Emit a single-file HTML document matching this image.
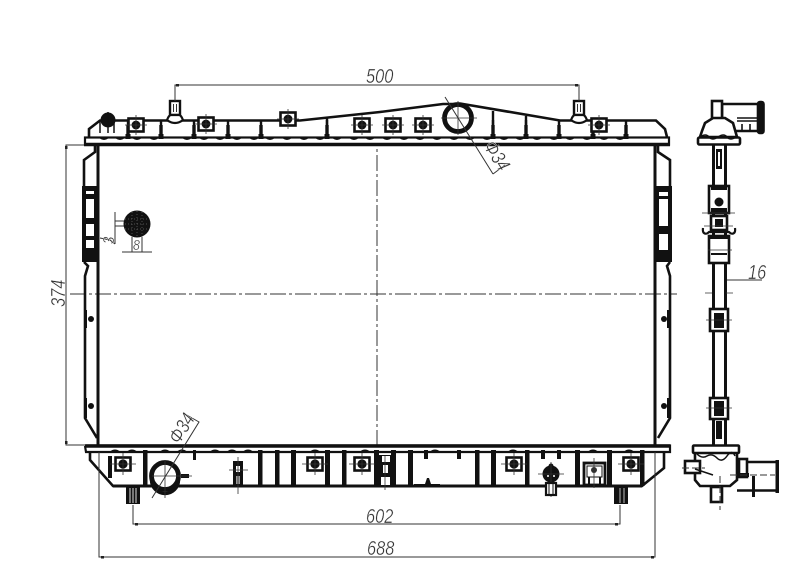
<!DOCTYPE html>
<html><head><meta charset="utf-8"><style>
html,body{margin:0;padding:0;background:#fff}
svg{display:block;filter:blur(.3px)}
text{font-family:"Liberation Sans",sans-serif;font-style:italic;fill:#333;font-size:20px;stroke:#fff;stroke-width:.35px}
</style></head><body>
<svg width="800" height="575" viewBox="0 0 800 575" xmlns="http://www.w3.org/2000/svg">
<defs>
<g id="clip"><rect x="-7.5" y="-6.5" width="15" height="13" fill="#fff" stroke="#111" stroke-width="2.6"/><circle r="4.4" fill="#111"/><path d="M-11 0H11M0-10V10" stroke="#333" stroke-width=".8"/></g>
<g id="rib"><path d="M0 0V-19" stroke="#111" stroke-width="2.4"/><path d="M0 0V-14" stroke="#111" stroke-width="3.4"/><path d="M0 0V-5" stroke="#111" stroke-width="5"/></g>
<g id="nip"><rect x="-5" y="0" width="10" height="14" fill="#fff" stroke="#111" stroke-width="2.4"/><path d="M-1.5 3V11M1.5 3V11" stroke="#333"/><path d="M-8 19Q-6 14-4 14H4Q6 14 8 19Q0 25-8 19Z" fill="#fff" stroke="#111" stroke-width="2.2"/></g>
<g id="bclip"><rect x="-7.5" y="-6.5" width="15" height="13" fill="#fff" stroke="#111" stroke-width="2.6"/><circle r="4.6" fill="#111"/><path d="M-13 0H13M0-11V11" stroke="#333" stroke-width=".8"/></g>
</defs>
<rect width="800" height="575" fill="#fff"/>

<!-- centre lines -->
<g stroke="#333" stroke-width="1" stroke-dasharray="16 3 3 3" fill="none">
<path d="M377 130V446"/><path d="M70 294H677"/>
</g>

<!-- core -->
<g stroke="#111" fill="none">
<path d="M98 145V445M655 145V445" stroke-width="3"/>
<path d="M95 146V152L84 160V186M84 262L88 266L85 276V418L97 438" stroke-width="2.600"/>
<path d="M658 146V152L670 160V186M670 262L667 266L670 276V418L658 438" stroke-width="2.600"/>
</g>
<g fill="#111">
<rect x="82" y="186" width="4" height="76"/><rect x="94" y="186" width="5" height="76"/>
<rect x="82" y="186" width="16" height="5"/><rect x="82" y="194" width="16" height="5"/><rect x="82" y="218" width="16" height="6"/><rect x="82" y="236" width="16" height="4"/><rect x="82" y="248" width="16" height="14"/>
<rect x="655" y="186" width="4" height="76"/><rect x="668" y="186" width="4" height="76"/>
<rect x="655" y="186" width="17" height="6"/><rect x="655" y="196" width="17" height="3"/><rect x="655" y="226" width="17" height="8"/><rect x="655" y="250" width="17" height="12"/>
<circle cx="91" cy="319" r="3"/><circle cx="91" cy="406" r="3"/><circle cx="664" cy="319" r="3"/><circle cx="664" cy="406" r="3"/>
<rect x="84" y="398" width="3" height="20"/><rect x="84" y="310" width="3" height="18"/><rect x="667" y="310" width="3" height="18"/><rect x="667" y="398" width="3" height="20"/>
</g>

<!-- top tank -->
<path d="M89 137V129L100 120.500H300L380 112L443 104H463L560 120.500H656L665 129L667 137" fill="#fff" stroke="#111" stroke-width="2.600"/>
<rect x="85" y="137.500" width="584" height="7" fill="#fff" stroke="#111" stroke-width="2.200"/>
<path d="M84 144.500H670" stroke="#111" stroke-width="3.400"/>
<path d="M100 138q4 3 8 0M116 138q4 3 8 0M133 138q4 3 8 0M150 138q4 3 8 0M183 138q4 3 8 0M200 138q4 3 8 0M216 138q4 3 8 0M233 138q4 3 8 0M250 138q4 3 8 0M266 138q4 3 8 0M283 138q4 3 8 0M300 138q4 3 8 0M316 138q4 3 8 0M333 138q4 3 8 0M350 138q4 3 8 0M366 138q4 3 8 0M383 138q4 3 8 0M400 138q4 3 8 0M416 138q4 3 8 0M433 138q4 3 8 0M450 138q4 3 8 0M466 138q4 3 8 0M483 138q4 3 8 0M500 138q4 3 8 0M516 138q4 3 8 0M533 138q4 3 8 0M550 138q4 3 8 0M566 138q4 3 8 0M583 138q4 3 8 0M600 138q4 3 8 0M616 138q4 3 8 0" fill="#111" stroke="#111" stroke-width="1"/>
<use href="#rib" x="128" y="139"/><use href="#rib" x="161" y="139"/><use href="#rib" x="194" y="139"/><use href="#rib" x="228" y="139"/><use href="#rib" x="261" y="139"/><use href="#rib" x="327" y="139"/>
<path d="M327 139V118" stroke="#111" stroke-width="2.400"/>
<use href="#rib" x="493" y="139"/><use href="#rib" x="526" y="139"/><use href="#rib" x="559" y="139"/><use href="#rib" x="593" y="139"/><use href="#rib" x="626" y="139"/>
<path d="M493 139V111M526 139V116" stroke="#111" stroke-width="2.400"/>
<use href="#clip" x="136" y="125"/><use href="#clip" x="206" y="124"/><use href="#clip" x="288" y="119"/><use href="#clip" x="362" y="125"/><use href="#clip" x="393" y="125"/><use href="#clip" x="423" y="125"/><use href="#clip" x="599" y="125"/>
<use href="#nip" x="175" y="101"/><use href="#nip" x="579" y="101"/>
<circle cx="108" cy="120" r="7.500" fill="#111"/><path d="M100 120V133M108 112V133M114 122V133" stroke="#111" stroke-width="1.500"/>
<circle cx="458" cy="118" r="13.500" fill="#fff" stroke="#111" stroke-width="4.800"/>
<path d="M441 118H477M458 101V135" stroke="#333" stroke-width=".8"/>
<path d="M445 97L493 174M493 174L505 165" stroke="#333" stroke-width="1" fill="none"/>
<text transform="translate(483,146) rotate(58) scale(.8,1)" style="font-size:20px">Φ34</text>

<!-- bottom tank -->
<path d="M90 452V460L113 486H642L664 468V452" fill="#fff" stroke="#111" stroke-width="2.600"/>
<path d="M113 486H642" stroke="#111" stroke-width="3"/>
<path d="M86 445.500H670V452H86L85 446" fill="#fff" stroke="#111" stroke-width="2.200"/>
<path d="M85 446H670" stroke="#111" stroke-width="3.400"/>
<g fill="#111">
<rect x="108" y="456" width="4" height="22"/><rect x="143" y="450" width="4.500" height="36"/>
<rect x="258" y="450" width="4.500" height="36"/><rect x="275" y="450" width="4.500" height="36"/><rect x="291" y="450" width="5" height="36"/><rect x="325" y="450" width="5" height="36"/><rect x="342" y="450" width="4.500" height="36"/><rect x="374" y="450" width="5" height="36"/><rect x="391" y="450" width="5" height="36"/><rect x="408" y="450" width="5" height="36"/>
<rect x="475" y="450" width="4.500" height="36"/><rect x="491" y="450" width="5" height="36"/><rect x="525" y="450" width="4.500" height="36"/><rect x="575" y="450" width="5" height="36"/><rect x="607" y="450" width="5" height="36"/><rect x="640" y="450" width="4.500" height="36"/>
<rect x="424" y="450" width="4" height="9"/><rect x="457" y="450" width="4" height="9"/><rect x="541" y="450" width="4" height="9"/><rect x="557" y="450" width="4" height="9"/>
<path d="M414 486V484H425L427 478H429L431 484H440V486Z"/>
<rect x="193" y="450" width="3" height="10"/>
</g>
<path d="M110 452q5-4 10 0M127 452q5-4 10 0M160 452q5-4 10 0M177 452q5-4 10 0M210 452q5-4 10 0M227 452q5-4 10 0M243 452q5-4 10 0M310 452q5-4 10 0M360 452q5-4 10 0M430 452q5-4 10 0M508 452q5-4 10 0M588 452q5-4 10 0M624 452q5-4 10 0" fill="#111" stroke="#111" stroke-width="1"/>
<use href="#bclip" x="123" y="464"/><use href="#bclip" x="315" y="464"/><use href="#bclip" x="362" y="464"/><use href="#bclip" x="514" y="464"/><use href="#bclip" x="631" y="464"/>
<rect x="233" y="461" width="10" height="24" fill="#111"/><rect x="236" y="466" width="4" height="6" fill="#fff"/><rect x="236" y="476" width="4" height="8" fill="#999"/><path d="M238 457V494M229 470H248" stroke="#333" stroke-width=".8"/>
<rect x="379" y="455" width="14" height="31" fill="#111"/><rect x="382" y="456" width="8" height="6" fill="#fff"/><rect x="383" y="465" width="5" height="8" fill="#fff"/><rect x="381" y="477" width="9" height="8" fill="#fff"/><path d="M385 456V490" stroke="#333" stroke-width=".8"/>
<circle cx="165" cy="480" r="13.500" fill="#fff" stroke="#111" stroke-width="3.400"/>
<circle cx="165" cy="476" r="13.500" fill="#fff" stroke="#111" stroke-width="4.800"/>
<path d="M181 476H189" stroke="#111" stroke-width="4"/>
<path d="M152 476H192M165 460V498" stroke="#333" stroke-width=".8"/>
<path d="M152 498L199 422L185 414" stroke="#333" stroke-width="1" fill="none"/>
<text transform="translate(179,445) rotate(-58) scale(.8,1)" style="font-size:20px">Φ34</text>
<rect x="126" y="487" width="14" height="17" fill="#111"/><path d="M130 488V503M133 488V503M136 488V503" stroke="#ddd" stroke-width="1"/>
<rect x="614" y="487" width="14" height="17" fill="#111"/><path d="M620 488V503M624 488V503" stroke="#bbb" stroke-width="1"/>
<circle cx="551" cy="474" r="8.500" fill="#111"/><circle cx="551" cy="466" r="2.500" fill="#111"/><path d="M538 474H564M551 462V497" stroke="#333" stroke-width=".8"/>
<rect x="546" y="483" width="10" height="12" fill="#fff" stroke="#111" stroke-width="2.200"/><path d="M549 484V494M553 484V494" stroke="#111"/>
<circle cx="548" cy="476" r="1" fill="#fff"/><circle cx="554" cy="476" r="1" fill="#fff"/>
<rect x="584" y="463" width="21" height="22" fill="#fff" stroke="#111" stroke-width="2.800"/>
<rect x="587" y="466" width="15" height="11" fill="#fff" stroke="#111"/><circle cx="594" cy="470" r="3" fill="#333"/><path d="M589 477V485M600 477V485" stroke="#111" stroke-width="2"/><path d="M594 458V488" stroke="#333" stroke-width=".8"/>

<!-- dimension lines -->
<g stroke="#333" stroke-width="1" fill="none">
<path d="M175 101V85H579V101"/>
<path d="M84 145H66V445H85"/>
<path d="M133 505V524H620V505"/>
<path d="M99 452V557H655V452"/>
<path d="M726 280H762"/>
<path d="M115 212V244M115 221H125M115 226H125M100 238L110 240L115 244"/>
<path d="M132 237V252M142 237V252M122 252H152"/>
</g>
<g fill="#222">
<rect x="176" y="84" width="3" height="2.500"/><rect x="575" y="84" width="3" height="2.500"/>
<rect x="65" y="146" width="2.500" height="3"/><rect x="65" y="441" width="2.500" height="3"/>
<rect x="135" y="523" width="3" height="2.500"/><rect x="615" y="523" width="3" height="2.500"/>
<rect x="101" y="556" width="3" height="2.500"/><rect x="651" y="556" width="3" height="2.500"/>
</g>
<circle cx="137" cy="224" r="13.500" fill="#111"/>
<path d="M125 219H149M125 224H149M125 229H149M132 212V236M137 211V237M142 212V236" stroke="#666" stroke-width=".7" stroke-dasharray="1 2"/>

<!-- text -->
<text transform="translate(366,83) scale(.82,1)" style="font-size:20px">500</text>
<text transform="translate(366,523) scale(.82,1)" style="font-size:20px">602</text>
<text transform="translate(367,555) scale(.82,1)" style="font-size:20px">688</text>
<text transform="translate(65,307) rotate(-90) scale(.82,1)" style="font-size:20px">374</text>
<text transform="translate(748,279) scale(.82,1)" style="font-size:20px">16</text>
<text transform="translate(114,244) rotate(-90) scale(.82,1)" style="font-size:16px">3</text>
<text transform="translate(133,250) scale(.82,1)" style="font-size:15px">8</text>

<!-- side view -->
<g stroke="#111" fill="#fff" stroke-width="2.600">
<path d="M713.500 145V445M725.500 145V445" fill="none" stroke-width="3"/>
<!-- top hose -->
<path d="M722 104H759V131H735L722 120Z"/>
<rect x="712" y="101" width="10" height="18"/>
<rect x="758" y="102" width="5.500" height="31" rx="2" fill="#111"/>
<path d="M737 118H757M737 121H757M742 124V131M750 124V131" stroke-width="1.600" fill="none"/>
<!-- dome -->
<path d="M702 131L705 123L713 118H725L733 123L737 137H700Z"/>
<rect x="698" y="137.500" width="42" height="7" rx="1.500"/>
<path d="M700 137q6-4 9 0t9 0t9 0t9 0" fill="none" stroke-width="1.400"/>
<!-- clips on column -->
<rect x="709" y="186" width="20" height="27"/>
<rect x="711" y="216" width="16" height="14"/>
<rect x="709" y="236" width="20" height="27"/>
<path d="M703 228C702 234 706 235 709 232H729C732 235 736 234 735 228" fill="none" stroke-width="2.200"/>
<rect x="710" y="309" width="18" height="22"/>
<rect x="710" y="398" width="18" height="21"/>
<!-- bottom body -->
<path d="M695 452V461L695 480L700 486H730L737 480V452Z"/>
<rect x="693" y="445.500" width="46" height="7.500" rx="1"/>
<rect x="711" y="487" width="11" height="15"/>
<rect x="685" y="461" width="15" height="12"/>
<path d="M747 462H777M737 490.500H777" fill="none" stroke-width="2.400"/>
<rect x="739" y="459" width="8" height="18"/>
</g>
<g fill="#111">
<rect x="716" y="149" width="6" height="20"/><rect x="718" y="152" width="2" height="14" fill="#fff"/>
<circle cx="719" cy="202" r="4.500"/><rect x="711" y="186" width="16" height="4"/><rect x="711" y="208" width="16" height="4"/>
<rect x="715" y="219" width="8" height="8"/>
<rect x="709" y="236" width="20" height="3"/><rect x="711" y="253" width="16" height="2"/>
<rect x="714" y="313" width="10" height="15"/><rect x="714" y="401" width="10" height="15"/>
<rect x="716" y="421" width="6" height="18"/>
<rect x="775.500" y="460" width="3.500" height="33"/><rect x="752" y="476" width="3" height="21"/>
<rect x="737" y="473" width="12" height="4"/>
</g>
<path d="M702 213H735M704 226H733M706 320H732M706 408H732M705 293H712M726 293H733M708 250H732" stroke="#333" stroke-width=".8" fill="none"/>
<path d="M697 454q5 5 10 2t10 2t10-2t8 0M695 469L713 475" stroke="#111" stroke-width="1.500" fill="none"/>
<path d="M682 468H705M720 476V510M730 475H775" stroke="#333" stroke-width="1" stroke-dasharray="7 3" fill="none"/>
</svg>
</body></html>
